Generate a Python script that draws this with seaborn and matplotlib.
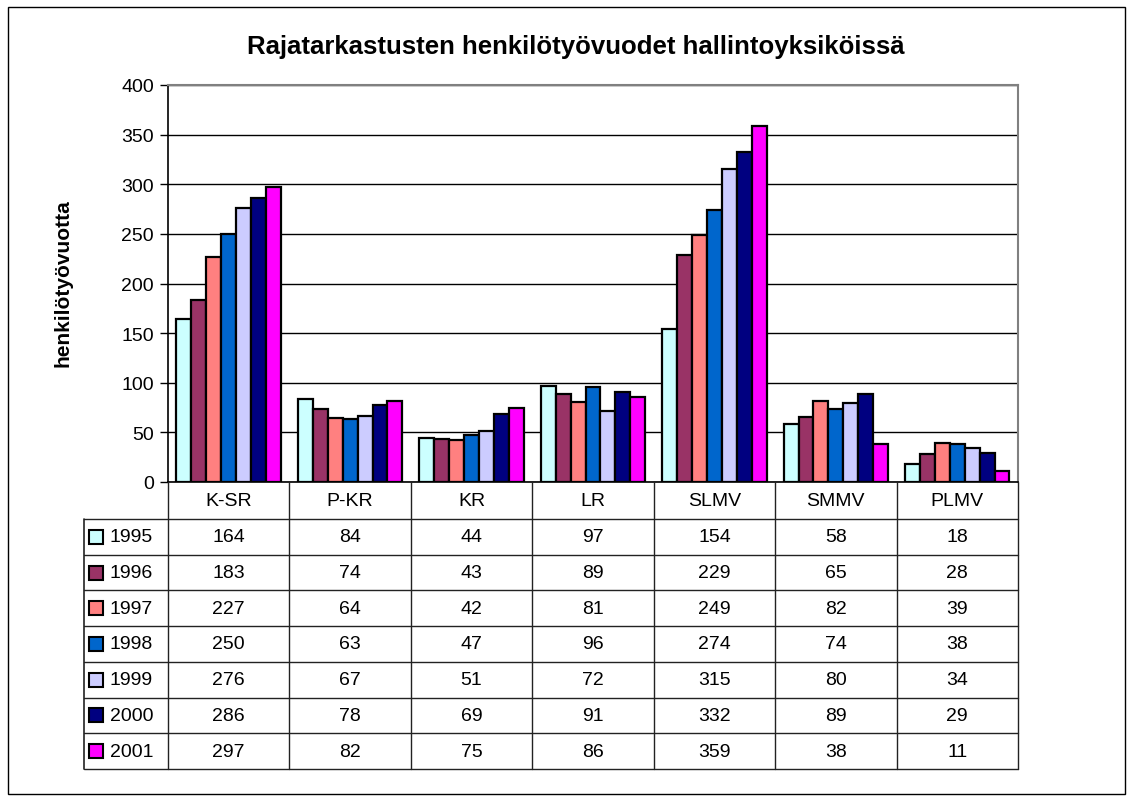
import numpy as np
import pandas as pd
import matplotlib
matplotlib.use('Agg')
import matplotlib.pyplot as plt
import seaborn as sns
from matplotlib.patches import Rectangle

# ---- data ----
units = ['K-SR', 'P-KR', 'KR', 'LR', 'SLMV', 'SMMV', 'PLMV']
years = ['1995', '1996', '1997', '1998', '1999', '2000', '2001']
v1995 = [164, 84, 44, 97, 154, 58, 18]
v1996 = [183, 74, 43, 89, 229, 65, 28]
v1997 = [227, 64, 42, 81, 249, 82, 39]
v1998 = [250, 63, 47, 96, 274, 74, 38]
v1999 = [276, 67, 51, 72, 315, 80, 34]
v2000 = [286, 78, 69, 91, 332, 89, 29]
v2001 = [297, 82, 75, 86, 359, 38, 11]
colors = ['#CCFFFF', '#993366', '#FF8080', '#0066CC', '#CCCCFF', '#000080', '#FF00FF']

series = [v1995, v1996, v1997, v1998, v1999, v2000, v2001]
df = pd.DataFrame({
    'unit': units * len(years),
    'year': [y for y in years for _ in units],
    'value': [v for s in series for v in s],
})

sns.set_style('white')
plt.rcParams['font.family'] = ['Liberation Sans', 'DejaVu Sans']
plt.rcParams['text.color'] = 'black'
plt.rcParams['ytick.color'] = 'black'
plt.rcParams['xtick.color'] = 'black'
plt.rcParams['axes.labelcolor'] = 'black'

W, H = 1133, 803
fig = plt.figure(figsize=(W / 100, H / 100), dpi=100)

# plot area in pixels
left, right, top, bottom = 168, 1018, 86, 483
ax = fig.add_axes([left / W, 1 - bottom / H, (right - left) / W, (bottom - top) / H])

sns.barplot(data=df, x='unit', y='value', hue='year', palette=colors, saturation=1,
            width=0.86, edgecolor='black', linewidth=1.6, legend=False, ax=ax, zorder=3)

ax.set_xlim(-0.5, len(units) - 0.5)
ax.set_ylim(0, 400)
ax.set_yticks(np.arange(0, 401, 50))
ax.yaxis.grid(True, color='black', linewidth=1, zorder=0)
ax.set_axisbelow(True)
ax.tick_params(axis='y', left=True, length=6, width=1, labelsize=14, pad=4,
               color='black', labelcolor='black')
ax.tick_params(axis='x', bottom=False, labelbottom=False)
ax.set_xlabel('')
ax.set_ylabel('')
for s in ['top', 'right']:
    ax.spines[s].set_color('#808080')
    ax.spines[s].set_linewidth(1.5)
ax.spines['left'].set_color('black')
ax.spines['left'].set_linewidth(1.2)
ax.spines['bottom'].set_color('black')
ax.spines['bottom'].set_linewidth(1.2)

# ---- data table ----
tleft, tbottom = 84, 770
tab = fig.add_axes([tleft / W, 1 - tbottom / H, (right - tleft) / W, (tbottom - bottom) / H])
unit_px = (right - left) / len(units)
x0 = -0.5 - (left - tleft) / unit_px
tab.set_xlim(x0, len(units) - 0.5)
tab.set_ylim(tbottom, bottom)
tab.axis('off')

header_h = 37
row_h = (tbottom - bottom - header_h) / len(years)
row_edges = [bottom + header_h + i * row_h for i in range(len(years) + 1)]

lc = '#222222'
# vertical lines
for i in range(len(units) + 1):
    tab.plot([i - 0.5, i - 0.5], [bottom, tbottom], color=lc, lw=1, clip_on=False)
tab.plot([x0, x0], [row_edges[0], tbottom], color=lc, lw=1.2, clip_on=False)
# horizontal lines
for y in row_edges:
    tab.plot([x0, len(units) - 0.5], [y, y], color=lc, lw=1, clip_on=False)

# header
for i, u in enumerate(units):
    tab.text(i, bottom + header_h / 2, u, ha='center', va='center', fontsize=14)

# rows
key_x = x0 + 12 / unit_px
lab_x = x0 + 26 / unit_px
for r, (yr, vals, c) in enumerate(zip(years, series, colors)):
    yc = row_edges[r] + row_h / 2
    tab.plot([key_x], [yc], marker='s', markersize=10, markerfacecolor=c,
             markeredgecolor='black', markeredgewidth=1.5, clip_on=False)
    tab.text(lab_x, yc, yr, ha='left', va='center', fontsize=14)
    for i, v in enumerate(vals):
        tab.text(i, yc, str(v), ha='center', va='center', fontsize=14)

# ---- titles ----
fig.text(576 / W, 1 - 47 / H, 'Rajatarkastusten henkilötyövuodet hallintoyksiköissä',
         ha='center', va='center', fontsize=18.5, fontweight='bold')
fig.text(63 / W, 1 - 283 / H, 'henkilötyövuotta', rotation=90,
         ha='center', va='center', fontsize=15, fontweight='bold')

# outer frame
fig.patches.append(Rectangle((8 / W, 8 / H), 1 - 16 / W, 1 - 16 / H, transform=fig.transFigure,
                             fill=False, edgecolor='black', linewidth=1))

fig.savefig('out.png', dpi=100)
